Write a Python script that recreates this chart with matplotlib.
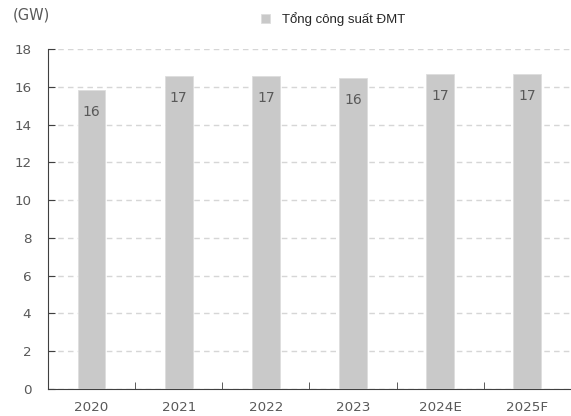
import matplotlib.pyplot as plt
import numpy as np

years = ['2020', '2021', '2022', '2023', '2024E', '2025F']
capacity = [15.82, 16.56, 16.56, 16.49, 16.70, 16.70]
labels = ['16', '17', '17', '16', '17', '17']
yticks = [0, 2, 4, 6, 8, 10, 12, 14, 16, 18]

fig = plt.figure(figsize=(5.71, 4.16), dpi=100)
ax = fig.add_axes([0.084, 0.065, 0.916, 0.817])

x = np.arange(len(years))
bars = ax.bar(x, capacity, width=0.32, color='#c9c9c9', edgecolor='#dedede',
              linewidth=0.6, zorder=3, label='Tổng công suất ĐMT')

# value labels sit inside the bar, just under the top
for b, lab in zip(bars, labels):
    ax.annotate(lab, (b.get_x() + b.get_width() / 2, b.get_height()),
                xytext=(0, -22), textcoords='offset pixels',
                ha='center', va='center', fontsize=10, color='#595959',
                family='DejaVu Sans', zorder=4)

ax.set_xlim(-0.5, len(years) - 0.5)
ax.set_ylim(0, 18)
ax.set_yticks(yticks)
ax.set_xticks(x)
ax.set_xticklabels(years)
ax.set_xticks(np.arange(len(years) + 1) - 0.5, minor=True)
ax.tick_params(axis='x', which='major', length=0, pad=9)
ax.tick_params(axis='x', which='minor', direction='in', length=5, color='#404040')
ax.tick_params(axis='y', direction='in', length=5, color='#404040', pad=12)
for t in ax.get_xticklabels() + ax.get_yticklabels():
    t.set_fontsize(9.7)
    t.set_color('#595959')

ax.yaxis.grid(True, linestyle=(0, (4, 3)), color='#d6d6d6', linewidth=1, zorder=0)
for s in ['top', 'right']:
    ax.spines[s].set_visible(False)
ax.spines['left'].set_color('#404040')
ax.spines['bottom'].set_color('#404040')

fig.text(0.023, 0.963, '(GW)', fontsize=10.5, color='#595959', va='center',
         family='DejaVu Sans')
ax.legend(loc='center', bbox_to_anchor=(0.545, 1.087), frameon=False,
          prop={'family': 'Liberation Sans', 'size': 9.5}, handlelength=0.7,
          handleheight=0.7, handletextpad=0.9, labelcolor='#262626')

fig.savefig('out.png', dpi=100)
